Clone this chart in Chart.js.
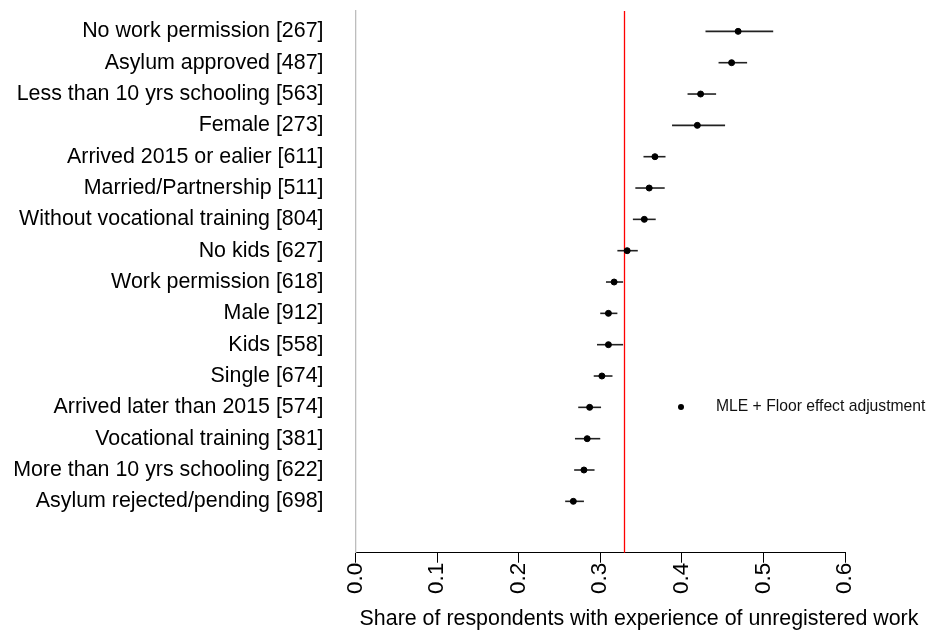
<!DOCTYPE html>
<html>
<head>
<meta charset="utf-8">
<title>Unregistered work</title>
<script src="https://cdn.jsdelivr.net/npm/chart.js@4.4.1/dist/chart.umd.min.js"></script>
<style>
  html, body { margin: 0; padding: 0; background: #fff; }
  #wrap { width: 929px; height: 630px; position: relative; }
</style>
</head>
<body>
<div id="wrap"><canvas id="chart"></canvas></div>
<script>
// groups, top to bottom
const groups = [
  'No work permission [267]',
  'Asylum approved [487]',
  'Less than 10 yrs schooling [563]',
  'Female [273]',
  'Arrived 2015 or ealier [611]',
  'Married/Partnership [511]',
  'Without vocational training [804]',
  'No kids [627]',
  'Work permission [618]',
  'Male [912]',
  'Kids [558]',
  'Single [674]',
  'Arrived later than 2015 [574]',
  'Vocational training [381]',
  'More than 10 yrs schooling [622]',
  'Asylum rejected/pending [698]'
];
const estimate = [0.469, 0.461, 0.423, 0.419, 0.367, 0.360, 0.354, 0.333, 0.317, 0.310, 0.310, 0.302, 0.287, 0.284, 0.280, 0.267];
const lower    = [0.429, 0.445, 0.407, 0.388, 0.353, 0.343, 0.340, 0.321, 0.307, 0.300, 0.296, 0.292, 0.273, 0.269, 0.268, 0.257];
const upper    = [0.512, 0.480, 0.442, 0.453, 0.380, 0.379, 0.368, 0.346, 0.328, 0.321, 0.328, 0.315, 0.301, 0.300, 0.293, 0.280];
const refLine = 0.329;
const xTicks = [0, 0.1, 0.2, 0.3, 0.4, 0.5, 0.6];
const legendLabel = 'MLE + Floor effect adjustment';
const axisTitle = 'Share of respondents with experience of unregistered work';

const FONT = '"Liberation Sans", Arial, sans-serif';

// horizontal whiskers behind the dots
const errorBars = {
  id: 'errorBars',
  beforeDatasetsDraw(chart) {
    const { ctx, scales: { x, y } } = chart;
    ctx.save();
    ctx.strokeStyle = '#222';
    ctx.lineWidth = 1.6;
    groups.forEach((g, i) => {
      const py = y.getPixelForValue(i + 1);
      ctx.beginPath();
      ctx.moveTo(x.getPixelForValue(lower[i]), py);
      ctx.lineTo(x.getPixelForValue(upper[i]), py);
      ctx.stroke();
    });
    ctx.restore();
  }
};

// red reference line
const refLinePlugin = {
  id: 'refLine',
  beforeDatasetsDraw(chart) {
    const { ctx, chartArea, scales: { x } } = chart;
    const px = Math.round(x.getPixelForValue(refLine)) + 0.5;
    ctx.save();
    ctx.strokeStyle = '#ff0000';
    ctx.lineWidth = 1.3;
    ctx.beginPath();
    ctx.moveTo(px, chartArea.top);
    ctx.lineTo(px, chartArea.bottom);
    ctx.stroke();
    ctx.restore();
  }
};

// legend inside the plot + x axis title (not centred on the plot in the original)
const extras = {
  id: 'extras',
  afterDraw(chart) {
    const { ctx, chartArea } = chart;
    const mx = chartArea.left + 325.5;
    const my = chartArea.top + 396;
    ctx.save();
    ctx.fillStyle = '#000';
    ctx.beginPath();
    ctx.arc(mx, my, 3, 0, Math.PI * 2);
    ctx.fill();
    ctx.font = '15.7px ' + FONT;
    ctx.textBaseline = 'middle';
    ctx.fillStyle = '#111';
    ctx.fillText(legendLabel, mx + 35, my);

    ctx.font = '21.4px ' + FONT;
    ctx.textAlign = 'center';
    ctx.textBaseline = 'alphabetic';
    ctx.fillStyle = '#000';
    ctx.fillText(axisTitle, chartArea.left + 283.5, chartArea.bottom + 72);
    ctx.restore();
  }
};

new Chart(document.getElementById('chart'), {
  type: 'scatter',
  plugins: [refLinePlugin, errorBars, extras],
  data: {
    datasets: [{
      label: legendLabel,
      data: estimate.map((v, i) => ({ x: v, y: i + 1 })),
      backgroundColor: '#000',
      borderColor: '#000',
      pointRadius: 3,
      pointHoverRadius: 3,
      pointStyle: 'circle'
    }]
  },
  options: {
    responsive: true,
    maintainAspectRatio: false,
    animation: false,
    layout: { padding: { top: 11, right: 84, bottom: 36, left: 0 } },
    plugins: {
      legend: { display: false },
      tooltip: { enabled: false }
    },
    scales: {
      x: {
        type: 'linear',
        min: 0,
        max: 0.6,
        afterBuildTicks: (scale) => { scale.ticks = xTicks.map(v => ({ value: v })); },
        ticks: {
          callback: (v) => Number(v).toFixed(1),
          minRotation: 90,
          maxRotation: 90,
          padding: 0,
          color: '#000',
          font: { family: FONT, size: 22.5 }
        },
        grid: {
          display: true,
          drawOnChartArea: false,
          drawTicks: true,
          tickLength: 10,
          color: '#000',
          lineWidth: 1
        },
        border: { display: true, color: '#000', width: 1 }
      },
      y: {
        type: 'linear',
        reverse: true,
        min: 0.35,
        max: 17.64,
        afterBuildTicks: (scale) => { scale.ticks = groups.map((g, i) => ({ value: i + 1 })); },
        afterFit: (scale) => {
          scale.width = 355.5;
          scale.paddingTop = 0;
          scale.paddingBottom = 0;
        },
        ticks: {
          autoSkip: false,
          callback: (v) => groups[v - 1] || '',
          padding: 32,
          color: '#000',
          font: { family: FONT, size: 21.4 }
        },
        grid: { display: false, drawTicks: false },
        border: { display: true, color: '#bdbdbd', width: 1.3 }
      }
    }
  }
});
</script>
</body>
</html>
